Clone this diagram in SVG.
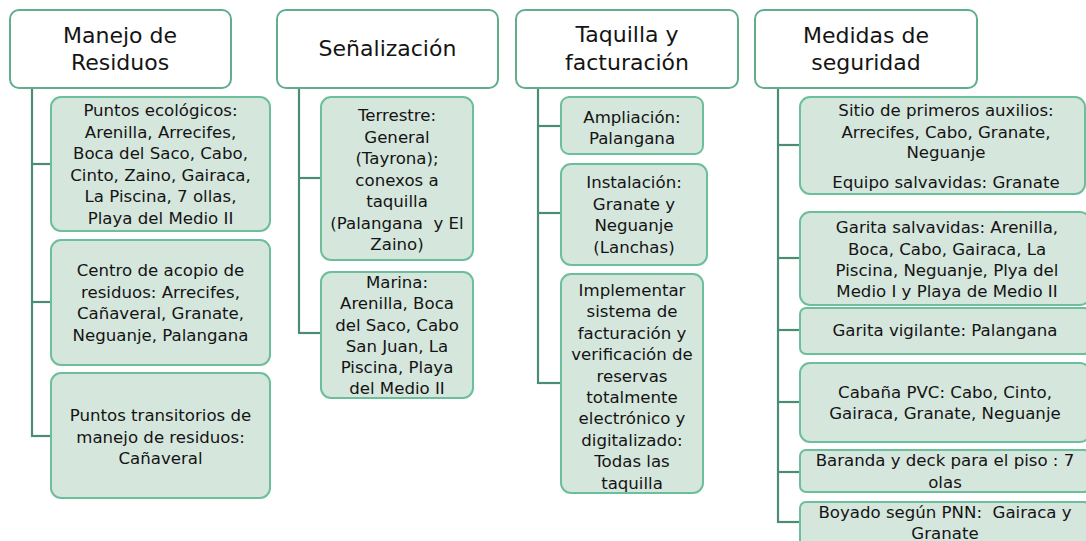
<svg xmlns="http://www.w3.org/2000/svg" width="1086" height="541" viewBox="0 0 1086 541">
<style>
.hdr{fill:#ffffff;stroke:#5fae8c;stroke-width:2}
.box{fill:#d5e6dd;stroke:#6dbe9b;stroke-width:2}
.conn line{stroke:#4c8c72;stroke-width:2.2}
text{font-family:"DejaVu Sans","Liberation Sans",sans-serif;fill:#141414;text-anchor:middle}
.h{font-size:22px}
.t{font-size:16.6px}
</style>
<rect width="1086" height="541" fill="#ffffff"/>
<g id="connectors" class="conn">
<line x1="32" y1="88" x2="32" y2="437"/>
<line x1="31" y1="164" x2="51" y2="164"/>
<line x1="31" y1="302" x2="51" y2="302"/>
<line x1="31" y1="436" x2="51" y2="436"/>
<line x1="299" y1="88" x2="299" y2="334"/>
<line x1="298" y1="178" x2="321" y2="178"/>
<line x1="298" y1="333" x2="321" y2="333"/>
<line x1="538" y1="88" x2="538" y2="384"/>
<line x1="537" y1="126" x2="561" y2="126"/>
<line x1="537" y1="213" x2="561" y2="213"/>
<line x1="537" y1="383" x2="561" y2="383"/>
<line x1="778" y1="88" x2="778" y2="523"/>
<line x1="777" y1="145" x2="800" y2="145"/>
<line x1="777" y1="258" x2="800" y2="258"/>
<line x1="777" y1="330" x2="800" y2="330"/>
<line x1="777" y1="402" x2="800" y2="402"/>
<line x1="777" y1="472" x2="800" y2="472"/>
<line x1="777" y1="522" x2="800" y2="522"/>
</g>
<g id="n-manejo">
<rect class="hdr" x="10" y="10" width="221" height="78" rx="9"/>
<text class="h" x="120" y="43">Manejo de</text>
<text class="h" x="120" y="70">Residuos</text>
</g>
<g id="n-puntos">
<rect class="box" x="51" y="97" width="219" height="134" rx="10"/>
<text class="t" x="160.5" y="116">Puntos ecológicos:</text>
<text class="t" x="160.5" y="137.5">Arenilla, Arrecifes,</text>
<text class="t" x="160.5" y="159">Boca del Saco, Cabo,</text>
<text class="t" x="160.5" y="180.5">Cinto, Zaino, Gairaca,</text>
<text class="t" x="160.5" y="202">La Piscina, 7 ollas,</text>
<text class="t" x="160.5" y="223.5">Playa del Medio II</text>
</g>
<g id="n-centro">
<rect class="box" x="51" y="240" width="219" height="125" rx="10"/>
<text class="t" x="160.5" y="276">Centro de acopio de</text>
<text class="t" x="160.5" y="297.5">residuos: Arrecifes,</text>
<text class="t" x="160.5" y="319">Cañaveral, Granate,</text>
<text class="t" x="160.5" y="340.5">Neguanje, Palangana</text>
</g>
<g id="n-transitorios">
<rect class="box" x="51" y="373" width="219" height="125" rx="10"/>
<text class="t" x="160.5" y="421">Puntos transitorios de</text>
<text class="t" x="160.5" y="442.5">manejo de residuos:</text>
<text class="t" x="160.5" y="464">Cañaveral</text>
</g>
<g id="n-senal">
<rect class="hdr" x="277" y="10" width="221" height="78" rx="9"/>
<text class="h" x="387.5" y="56">Señalización</text>
</g>
<g id="n-terrestre">
<rect class="box" x="321" y="97" width="152" height="163" rx="10"/>
<text class="t" x="397" y="121">Terrestre:</text>
<text class="t" x="397" y="142.5">General</text>
<text class="t" x="397" y="164">(Tayrona);</text>
<text class="t" x="397" y="185.5">conexos a</text>
<text class="t" x="397" y="207">taquilla</text>
<text class="t" x="397" y="228.5">(Palangana&#160; y El</text>
<text class="t" x="397" y="250">Zaino)</text>
</g>
<g id="n-marina">
<rect class="box" x="321" y="272" width="152" height="126" rx="10"/>
<text class="t" x="397" y="288">Marina:</text>
<text class="t" x="397" y="309">Arenilla, Boca</text>
<text class="t" x="397" y="330.5">del Saco, Cabo</text>
<text class="t" x="397" y="352">San Juan, La</text>
<text class="t" x="397" y="373">Piscina, Playa</text>
<text class="t" x="397" y="393.5">del Medio II</text>
</g>
<g id="n-taquilla">
<rect class="hdr" x="516" y="10" width="222" height="78" rx="9"/>
<text class="h" x="627" y="41.5">Taquilla y</text>
<text class="h" x="627" y="69.5">facturación</text>
</g>
<g id="n-ampliacion">
<rect class="box" x="561" y="97" width="142" height="57" rx="8"/>
<text class="t" x="632" y="123">Ampliación:</text>
<text class="t" x="632" y="144">Palangana</text>
</g>
<g id="n-instalacion">
<rect class="box" x="561" y="164" width="146" height="101" rx="10"/>
<text class="t" x="634" y="188">Instalación:</text>
<text class="t" x="634" y="209.5">Granate y</text>
<text class="t" x="634" y="231">Neguanje</text>
<text class="t" x="634" y="252.5">(Lanchas)</text>
</g>
<g id="n-implementar">
<rect class="box" x="561" y="274" width="142" height="219" rx="10"/>
<text class="t" x="632" y="296">Implementar</text>
<text class="t" x="632" y="317.4">sistema de</text>
<text class="t" x="632" y="338.8">facturación y</text>
<text class="t" x="632" y="360.2">verificación de</text>
<text class="t" x="632" y="381.6">reservas</text>
<text class="t" x="632" y="403">totalmente</text>
<text class="t" x="632" y="424.4">electrónico y</text>
<text class="t" x="632" y="445.8">digitalizado:</text>
<text class="t" x="632" y="467.2">Todas las</text>
<text class="t" x="632" y="488.6">taquilla</text>
</g>
<g id="n-medidas">
<rect class="hdr" x="755" y="10" width="222" height="78" rx="9"/>
<text class="h" x="866" y="43">Medidas de</text>
<text class="h" x="866" y="70">seguridad</text>
</g>
<g id="n-sitio">
<rect class="box" x="800" y="97" width="285" height="97" rx="10"/>
<text class="t" x="946" y="116">Sitio de primeros auxilios:</text>
<text class="t" x="946" y="137.5">Arrecifes, Cabo, Granate,</text>
<text class="t" x="946" y="158">Neguanje</text>
<text class="t" x="946" y="188">Equipo salvavidas: Granate</text>
</g>
<g id="n-garita-salv">
<rect class="box" x="800" y="212" width="290" height="93" rx="10"/>
<text class="t" x="947" y="233">Garita salvavidas: Arenilla,</text>
<text class="t" x="947" y="254.5">Boca, Cabo, Gairaca, La</text>
<text class="t" x="947" y="276">Piscina, Neguanje, Plya del</text>
<text class="t" x="947" y="297">Medio I y Playa de Medio II</text>
</g>
<g id="n-garita-vig">
<rect class="box" x="800" y="308" width="290" height="46" rx="6"/>
<text class="t" x="945" y="336">Garita vigilante: Palangana</text>
</g>
<g id="n-cabana">
<rect class="box" x="800" y="363" width="290" height="79" rx="10"/>
<text class="t" x="945" y="398">Cabaña PVC: Cabo, Cinto,</text>
<text class="t" x="945" y="419">Gairaca, Granate, Neguanje</text>
</g>
<g id="n-baranda">
<rect class="box" x="800" y="450" width="290" height="42" rx="6"/>
<text class="t" x="945" y="466">Baranda y deck para el piso : 7</text>
<text class="t" x="945" y="488">olas</text>
</g>
<g id="n-boyado">
<rect class="box" x="800" y="502" width="290" height="50" rx="6"/>
<text class="t" x="945" y="518">Boyado según PNN:&#160; Gairaca y</text>
<text class="t" x="945" y="539">Granate</text>
</g>
</svg>
